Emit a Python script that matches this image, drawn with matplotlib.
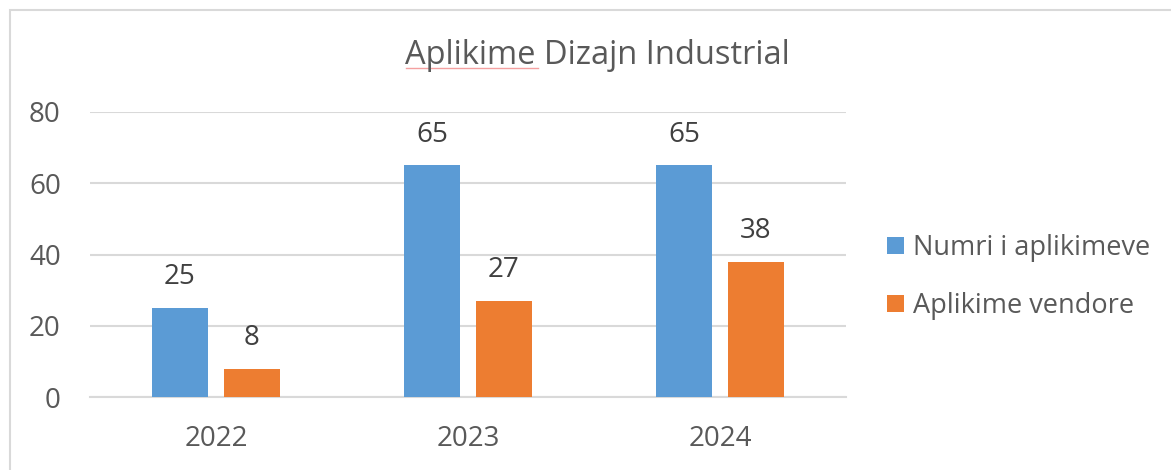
import numpy as np
import matplotlib.pyplot as plt
from matplotlib.patches import Rectangle
from matplotlib.lines import Line2D

years = ['2022', '2023', '2024']
numri = [25, 65, 65]
vendore = [8, 27, 38]
series_names = ['Numri i aplikimeve', 'Aplikime vendore']
title = 'Aplikime Dizajn Industrial'

plt.rcParams['font.family'] = ['Open Sans', 'DejaVu Sans']
txt = '#595959'

fig = plt.figure(figsize=(11.71, 4.70), dpi=100)
ax = fig.add_axes([90 / 1171, 1 - 397 / 470, 756 / 1171, 285 / 470])

# outer chart border (partly cropped in the screenshot)
fig.patches.append(Rectangle((10 / 1171, -0.1), 1.2, 1 - 10 / 470 + 0.1,
                             transform=fig.transFigure, fill=False,
                             edgecolor='#d9d9d9', linewidth=1.5))

x = np.arange(len(years))
w = 0.222
b1 = ax.bar(x - 0.143, numri, w, color='#5B9BD5', label=series_names[0], zorder=3)
b2 = ax.bar(x + 0.141, vendore, w, color='#ED7D31', label=series_names[1], zorder=3)

for bars in (b1, b2):
    for r in bars:
        ax.annotate(f'{r.get_height():.0f}', (r.get_x() + r.get_width() / 2, r.get_height()),
                    xytext=(0, 12), textcoords='offset points', ha='center', va='bottom',
                    fontsize=20, color='#404040')

ax.set_xlim(-0.5, 2.5)
ax.set_ylim(0, 80)
ax.set_yticks([0, 20, 40, 60, 80])
ax.set_xticks(x)
ax.set_xticklabels(years)
ax.yaxis.grid(True, color='#d9d9d9', linewidth=1.5, zorder=0)
ax.tick_params(length=0, labelsize=20, labelcolor=txt)
ax.tick_params(axis='y', pad=21)
ax.tick_params(axis='x', pad=20)
for s in ['top', 'right', 'left']:
    ax.spines[s].set_visible(False)
ax.spines['bottom'].set_color('#d9d9d9')
ax.spines['bottom'].set_linewidth(1.5)

fig.text(597 / 1171, 1 - 55 / 470, title, ha='center', va='center', fontsize=23.5, color=txt)
# spell-check underline under the first word, as in the screenshot
fig.lines.append(Line2D([406 / 1171, 538 / 1171], [1 - 68 / 470, 1 - 68 / 470],
                        transform=fig.transFigure, color='#f4a0a0', linewidth=1))

fig.legend(handles=[b1, b2], loc='center left', bbox_to_anchor=(863 / 1171, 1 - 277 / 470),
           frameon=False, fontsize=19.5, labelcolor=txt, handlelength=0.6, handleheight=0.6,
           handletextpad=0.35, labelspacing=1.1)

fig.savefig('out.png', dpi=100)
